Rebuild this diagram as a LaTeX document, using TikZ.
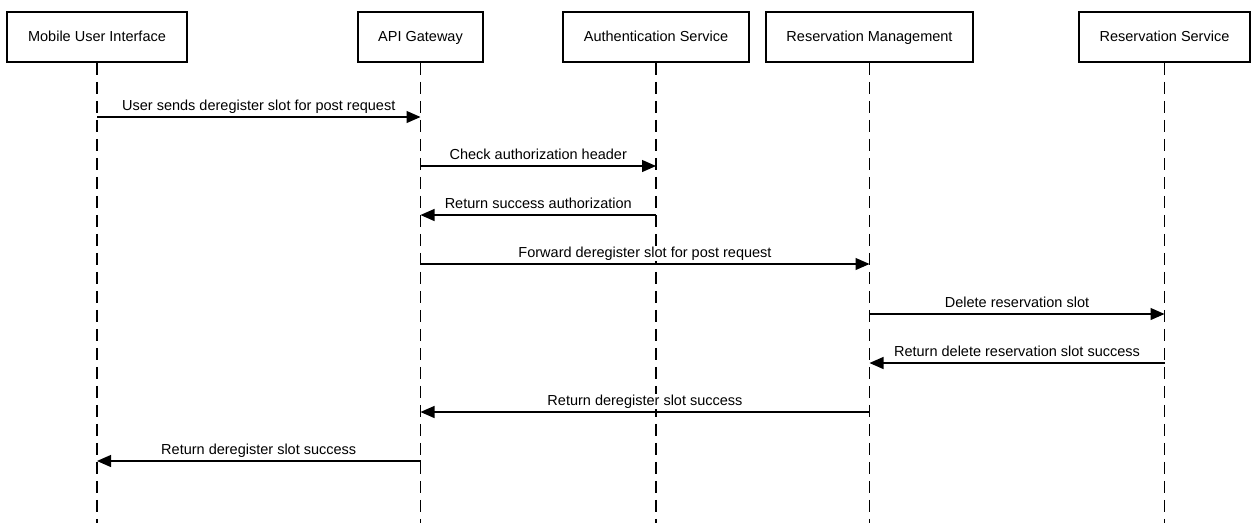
\documentclass[tikz,border=0pt]{standalone}
\usepackage{fontspec}
\setmainfont{Liberation Sans}
\usetikzlibrary{arrows.meta}
\begin{document}
\begin{tikzpicture}[x=1pt,y=-1pt,
  actor/.style={draw,line width=1.8pt,minimum height=50pt,inner sep=0pt,text height=10.5pt,text depth=1pt,font=\fontsize{14.5}{17}\selectfont},
  life/.style={dash pattern=on 12pt off 7pt, line width=1.1pt},
  msg/.style={line width=1.2pt,-{Triangle[length=14pt,width=12pt]}},
  lbl/.style={anchor=base,fill=white,inner sep=1pt,font=\fontsize{14.5}{17}\selectfont}]
\useasboundingbox (0,0) rectangle (1258,523);
% actors
\node[actor,minimum width=180pt] (m)  at (97,37)    {Mobile User Interface};
\node[actor,minimum width=125pt] (a)  at (420.5,37) {API Gateway};
\node[actor,minimum width=186pt] (au) at (656,37)   {Authentication Service};
\node[actor,minimum width=207pt] (rm) at (869.5,37) {Reservation Management};
\node[actor,minimum width=171pt] (rs) at (1164.5,37){Reservation Service};
% lifeline ends
\coordinate (mE)  at (m.south |- 0,523);
\coordinate (aE)  at (a.south |- 0,523);
\coordinate (auE) at (au.south |- 0,523);
\coordinate (rmE) at (rm.south |- 0,523);
\coordinate (rsE) at (rs.south |- 0,523);
\draw[life] (m.south) -- (mE);
\draw[life] (a.south) -- (aE);
\draw[life] (au.south) -- (auE);
\draw[life] (rm.south) -- (rmE);
\draw[life] (rs.south) -- (rsE);
% message end points
\coordinate (m1) at (m.south |- 0,117);  \coordinate (a1) at (a.south |- 0,117);
\coordinate (a2) at (a.south |- 0,166);  \coordinate (au2) at (au.south |- 0,166);
\coordinate (a3) at (a.south |- 0,215);  \coordinate (au3) at (au.south |- 0,215);
\coordinate (a4) at (a.south |- 0,264);  \coordinate (rm4) at (rm.south |- 0,264);
\coordinate (rm5) at (rm.south |- 0,314); \coordinate (rs5) at (rs.south |- 0,314);
\coordinate (rm6) at (rm.south |- 0,363); \coordinate (rs6) at (rs.south |- 0,363);
\coordinate (a7) at (a.south |- 0,412);  \coordinate (rm7) at (rm.south |- 0,412);
\coordinate (m8) at (m.south |- 0,461);  \coordinate (a8) at (a.south |- 0,461);
% messages
\draw[msg] (m1) -- (a1) node[lbl,midway,yshift=7pt] (l1) {User sends deregister slot for post request};
\draw[msg] (a2) -- (au2) node[lbl,midway,yshift=7pt] (l2) {Check authorization header};
\draw[msg] (au3) -- (a3) node[lbl,midway,yshift=7pt] (l3) {Return success authorization};
\draw[msg] (a4) -- (rm4) node[lbl,midway,yshift=7pt] (l4) {Forward deregister slot for post request};
\draw[msg] (rm5) -- (rs5) node[lbl,midway,yshift=7pt] (l5) {Delete reservation slot};
\draw[msg] (rs6) -- (rm6) node[lbl,midway,yshift=7pt] (l6) {Return delete reservation slot success};
\draw[msg] (rm7) -- (a7) node[lbl,midway,yshift=7pt] (l7) {Return deregister slot success};
\draw[msg] (a8) -- (m8) node[lbl,midway,yshift=7pt] (l8) {Return deregister slot success};
\end{tikzpicture}
\end{document}
